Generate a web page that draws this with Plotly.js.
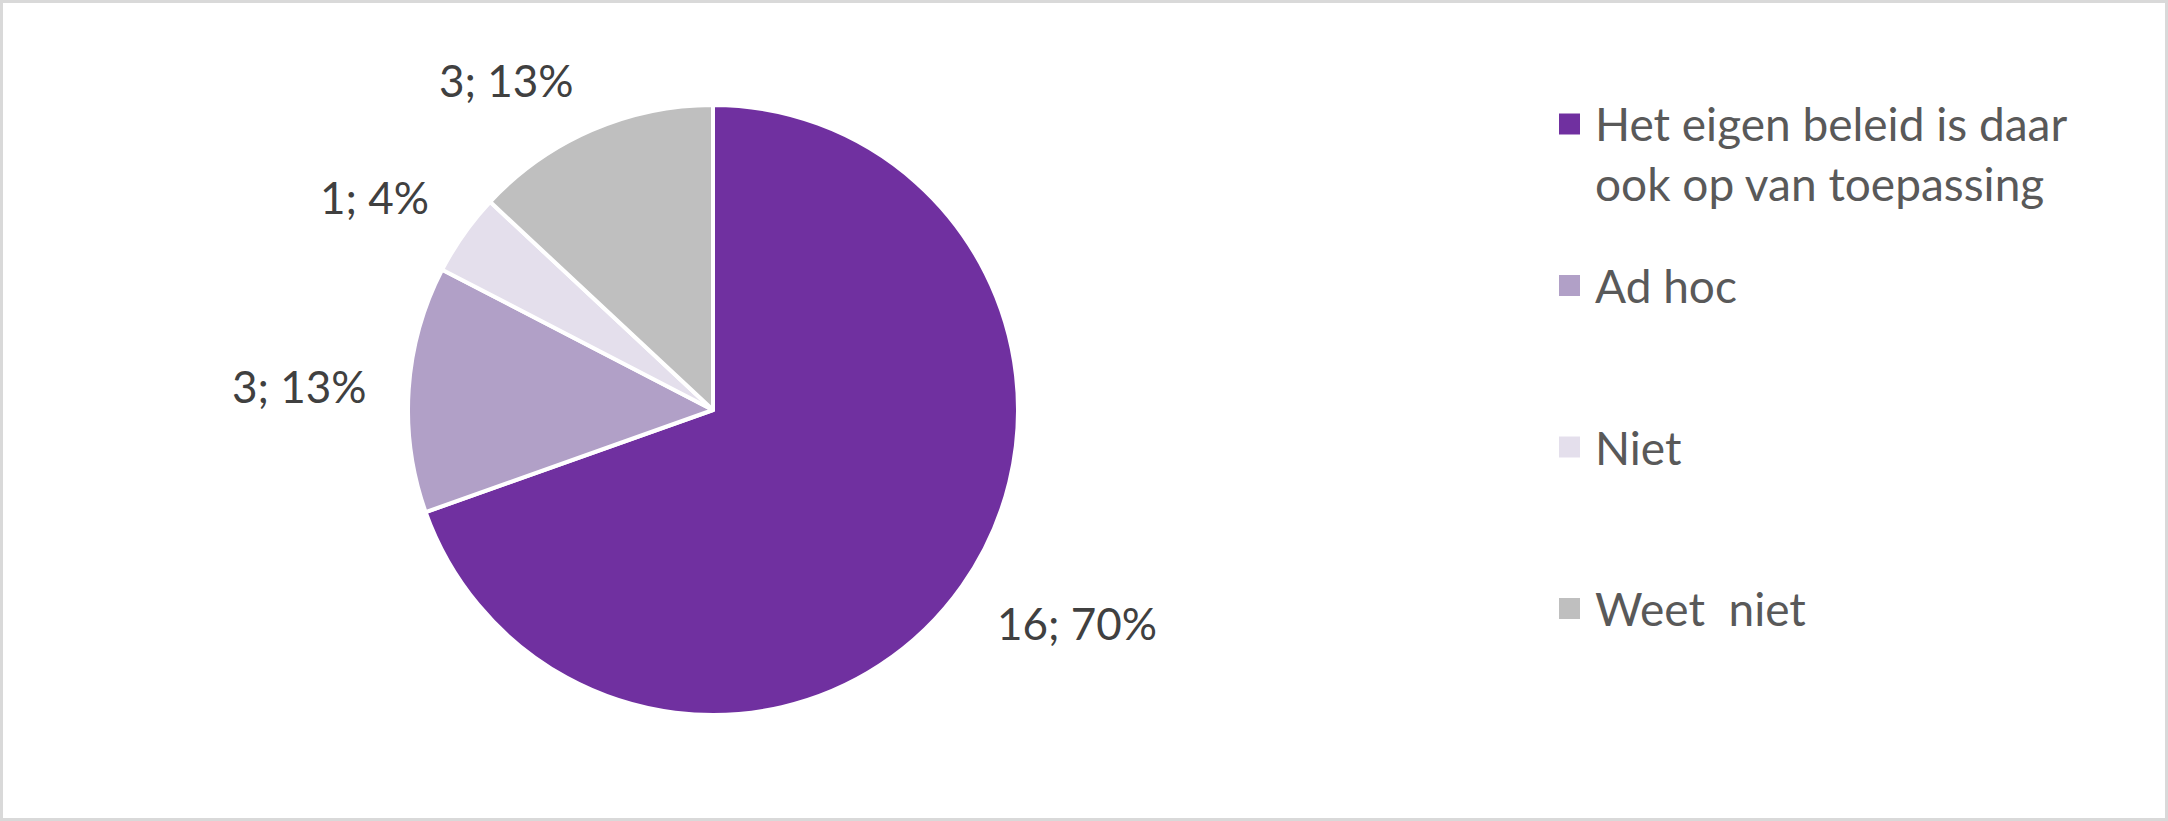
<!DOCTYPE html>
<html>
<head>
<meta charset="utf-8">
<script src="https://cdn.plot.ly/plotly-3.0.1.min.js"></script>
<style>
  html, body { margin: 0; padding: 0; background: #ffffff; }
  #chart { width: 2168px; height: 821px; }
</style>
</head>
<body>
<div id="chart"></div>
<script>
// Answers and counts
const categories = [
  "Het eigen beleid is daar<br>ook op van toepassing",
  "Ad hoc",
  "Niet",
  "Weet\u00a0 niet"
];
const counts = [16, 3, 1, 3];
const sliceColors = ["#7030A0", "#B1A0C7", "#E4DFEC", "#BFBFBF"];

// Page and pie geometry (pixels)
const W = 2168, H = 821;
const cx = 713, cy = 410, R = 305;
const labelGap = 40;
const labelInset = 14;

const px2x = px => px / W;
const px2y = py => 1 - py / H;

const total = counts.reduce((a, b) => a + b, 0);

const pieTrace = {
  type: "pie",
  values: counts,
  labels: categories,
  sort: false,
  direction: "clockwise",
  rotation: 0,
  textinfo: "none",
  hoverinfo: "skip",
  showlegend: false,
  marker: { colors: sliceColors, line: { color: "#ffffff", width: 4 } },
  domain: {
    x: [px2x(cx - R), px2x(cx + R)],
    y: [px2y(cy + R), px2y(cy - R)]
  }
};

// Data labels "n; p%" placed outside each slice at its mid angle
const annotations = [];
let start = 0;
counts.forEach((v, i) => {
  const span = v / total * 360;
  const mid = (start + span / 2) * Math.PI / 180;
  start += span;
  const s = Math.sin(mid), c = Math.cos(mid);
  const d = R + labelGap;
  const yanchor = c > 0.3 ? "bottom" : (c < -0.3 ? "top" : "middle");
  annotations.push({
    xref: "paper", yref: "paper",
    x: px2x(cx + d * s), y: px2y(cy - d * c),
    xanchor: s > 0.3 ? "left" : (s < -0.3 ? "right" : "center"),
    yanchor: yanchor,
    yshift: yanchor === "bottom" ? -labelInset : (yanchor === "top" ? labelInset : 0),
    text: v + "; " + Math.round(v / total * 100) + "%",
    showarrow: false,
    font: { family: "Lato, 'Open Sans', sans-serif", size: 44, color: "#404040" }
  });
});

// Legend: colour squares with their labels
const shapes = [];
const legX = 1559, legBox = 21, legTextX = 1593;
const legY0 = 124, legStep = 161.5, legFont = 46, legLine = legFont * 1.3;
categories.forEach((name, i) => {
  const y = legY0 + i * legStep;
  shapes.push({
    type: "rect", xref: "paper", yref: "paper",
    x0: px2x(legX), x1: px2x(legX + legBox),
    y0: px2y(y + legBox / 2), y1: px2y(y - legBox / 2),
    fillcolor: sliceColors[i], line: { width: 0 }
  });
  const nLines = name.split("<br>").length;
  annotations.push({
    xref: "paper", yref: "paper",
    x: px2x(legTextX), y: px2y(y + (nLines - 1) * legLine / 2),
    xanchor: "left", yanchor: "middle", align: "left",
    text: name, showarrow: false,
    font: { family: "Lato, 'Open Sans', sans-serif", size: legFont, color: "#595959" }
  });
});

// Chart frame
shapes.push({
  type: "rect", xref: "paper", yref: "paper",
  x0: 0, x1: 1, y0: 0, y1: 1,
  line: { color: "#D9D9D9", width: 6 }, fillcolor: "rgba(0,0,0,0)"
});

const layout = {
  width: W, height: H,
  margin: { l: 0, r: 0, t: 0, b: 0, pad: 0 },
  paper_bgcolor: "#ffffff",
  plot_bgcolor: "#ffffff",
  showlegend: false,
  annotations: annotations,
  shapes: shapes
};

Plotly.newPlot("chart", [pieTrace], layout, { displayModeBar: false, staticPlot: true });
</script>
</body>
</html>
